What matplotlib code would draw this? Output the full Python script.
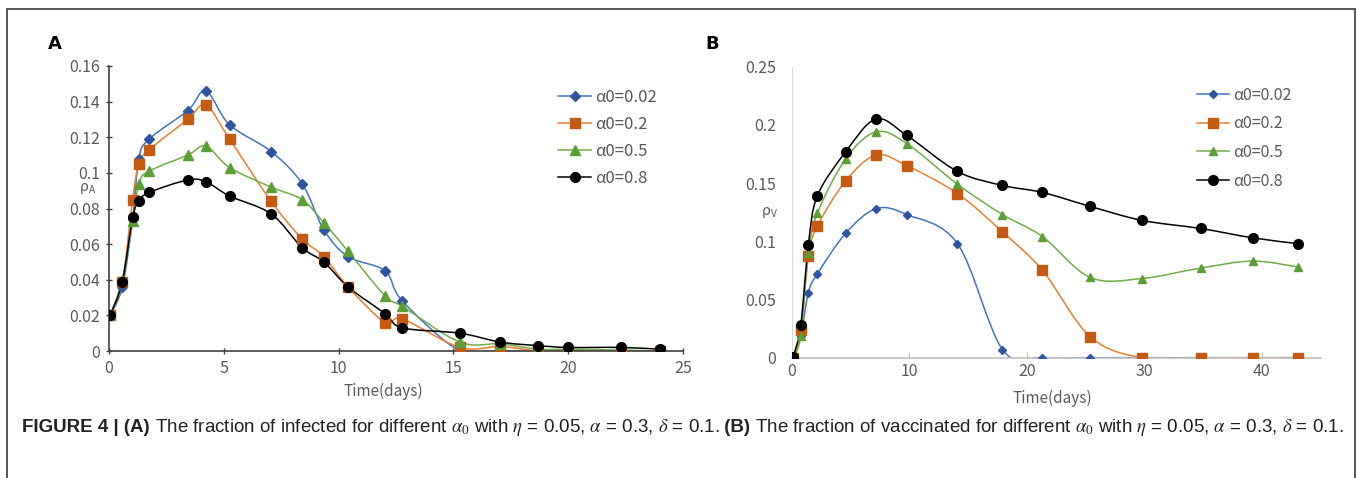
import numpy as np
import matplotlib
matplotlib.use('Agg')
import matplotlib.pyplot as plt
from matplotlib.path import Path
from matplotlib.patches import PathPatch, Rectangle
from matplotlib.lines import Line2D
from matplotlib.ticker import FuncFormatter

plt.rcParams['font.family'] = ['Noto Sans CJK SC', 'DejaVu Sans']
plt.rcParams['mathtext.fontset'] = 'stix'

# 图A数据：感染比例
days_a = [0.05, 0.58, 1.03, 1.3, 1.75, 3.43, 4.22, 5.25, 7.06, 8.41, 9.36, 10.41,
          12.02, 12.78, 15.28, 17.04, 18.7, 20.0, 22.3, 24.0]
rho_a_002 = [0.02, 0.036, 0.074, 0.108, 0.119, 0.135, 0.146, 0.127, 0.112, 0.094, 0.068, 0.053,
             0.045, 0.028, 0.0, 0.0, 0.0, 0.0, 0.0, 0.0]
rho_a_02 = [0.02, 0.039, 0.085, 0.105, 0.113, 0.13, 0.138, 0.119, 0.084, 0.063, 0.053, 0.036,
            0.016, 0.018, 0.002, 0.0025, 0.0, 0.0, 0.0, 0.0]
rho_a_05 = [0.02, 0.04, 0.073, 0.094, 0.101, 0.11, 0.115, 0.103, 0.092, 0.085, 0.072, 0.056,
            0.031, 0.025, 0.005, 0.004, 0.001, 0.001, 0.0005, 0.0]
rho_a_08 = [0.02, 0.039, 0.075, 0.084, 0.089, 0.096, 0.095, 0.087, 0.077, 0.058, 0.05, 0.036,
            0.021, 0.013, 0.01, 0.005, 0.003, 0.002, 0.002, 0.001]

# 图B数据：接种比例
days_b = [0.14, 0.77, 1.42, 2.18, 4.6, 7.17, 9.79, 14.1, 17.93, 21.33, 25.39, 29.79,
          34.78, 39.2, 43.03]
rho_v_002 = [0.0, 0.019, 0.056, 0.072, 0.107, 0.128, 0.123, 0.098, 0.007, 0.0, 0.0, 0.0,
             0.0, 0.0, 0.0]
rho_v_02 = [0.0, 0.024, 0.087, 0.113, 0.152, 0.174, 0.165, 0.141, 0.108, 0.075, 0.018, 0.0,
            0.0, 0.0, 0.0]
rho_v_05 = [0.0, 0.019, 0.09, 0.124, 0.171, 0.194, 0.184, 0.149, 0.123, 0.104, 0.069, 0.068,
            0.077, 0.083, 0.078]
rho_v_08 = [0.001, 0.028, 0.097, 0.139, 0.177, 0.205, 0.191, 0.16, 0.148, 0.142, 0.13, 0.118,
            0.111, 0.103, 0.098]

labels = ['α0=0.02', 'α0=0.2', 'α0=0.5', 'α0=0.8']
line_colors = ['#4472C4', '#ED7D31', '#70AD47', '#000000']
marker_colors = ['#2F55A0', '#C55A11', '#5A9E34', '#000000']
markers = ['D', 's', '^', 'o']

GRAY = '#595959'


# Excel风格的平滑曲线（Bezier）
def smooth_path(x, y):
    p = np.column_stack([x, y]).astype(float)
    n = len(p)
    verts = [p[0]]
    codes = [Path.MOVETO]
    for i in range(n - 1):
        p0 = p[i - 1] if i > 0 else p[i]
        p3 = p[i + 2] if i + 2 < n else p[i + 1]
        c1 = p[i] + (p[i + 1] - p0) / 6.0
        c2 = p[i + 1] - (p3 - p[i]) / 6.0
        verts += [c1, c2, p[i + 1]]
        codes += [Path.CURVE4] * 3
    return Path(verts, codes)


def draw_series(ax, x, ys, msizes):
    for y, lc, mc, mk, ms in zip(ys, line_colors, marker_colors, markers, msizes):
        ax.add_patch(PathPatch(smooth_path(x, y), fill=False, edgecolor=lc, lw=1.1, zorder=2))
        ax.plot(x, y, linestyle='none', marker=mk, ms=ms, color=mc, zorder=3)


fig = plt.figure(figsize=(13.57, 4.78), dpi=100)

# 外框
fig.add_artist(Rectangle((7 / 1357, -0.05), 1348 / 1357, 1.05 - 9 / 478, transform=fig.transFigure,
                         fill=False, edgecolor='#555555', lw=1.4))

fmt = FuncFormatter(lambda v, pos: '{:g}'.format(round(v, 3)))

# ---- 图A ----
ax1 = fig.add_axes([109 / 1357, 1 - 351 / 478, 574 / 1357, 285 / 478])
draw_series(ax1, days_a, [rho_a_002, rho_a_02, rho_a_05, rho_a_08], [5.5, 6.5, 6.5, 7])
ax1.set_xlim(0, 25)
ax1.set_ylim(0, 0.16)
ax1.set_xticks(np.arange(0, 26, 5))
ax1.set_yticks(np.arange(0, 0.161, 0.02))
ax1.yaxis.set_major_formatter(fmt)
for s in ['top', 'right']:
    ax1.spines[s].set_visible(False)
for s in ['left', 'bottom']:
    ax1.spines[s].set_color('#404040')
    ax1.spines[s].set_linewidth(1.2)
ax1.tick_params(direction='inout', length=5, width=1, color='#404040', labelcolor=GRAY,
                labelsize=11.5, pad=4)

h1 = [Line2D([], [], color=lc, marker=mk, mfc=mc, mec=mc, ms=ms, lw=1.1)
      for lc, mc, mk, ms in zip(line_colors, marker_colors, markers, [5.5, 6.5, 6.5, 7])]
fig.legend(h1, labels, loc='upper left', bbox_to_anchor=(558 / 1357, 1 - 89 / 478), frameon=False,
           fontsize=12, labelcolor=GRAY, handlelength=2.0, handletextpad=0.25, labelspacing=0.6,
           borderpad=0, borderaxespad=0)

fig.text(88 / 1357, 1 - 189 / 478, r'ρ$_{\mathregular{A}}$', color=GRAY, fontsize=10.5,
         ha='center', va='center')
fig.text(383 / 1357, 1 - 391 / 478, 'Time(days)', color=GRAY, fontsize=11, ha='center', va='center')
fig.text(55 / 1357, 1 - 44 / 478, 'A', fontsize=13, fontweight='bold', ha='center', va='center',
         family='DejaVu Sans')

# ---- 图B ----
ax2 = fig.add_axes([791.7 / 1357, 1 - 357.7 / 478, 529 / 1357, 291 / 478])
draw_series(ax2, days_b, [rho_v_002, rho_v_02, rho_v_05, rho_v_08], [4.5, 6.5, 6, 7])
ax2.set_xlim(0, 45)
ax2.set_ylim(0, 0.25)
ax2.set_xticks(np.arange(0, 41, 10))
ax2.set_yticks(np.arange(0, 0.251, 0.05))
ax2.yaxis.set_major_formatter(fmt)
for s in ['top', 'right']:
    ax2.spines[s].set_visible(False)
ax2.spines['left'].set_color('#D9D9D9')
ax2.spines['bottom'].set_color('#BFBFBF')
ax2.spines['bottom'].set_linewidth(1.2)
ax2.tick_params(axis='x', direction='in', length=4, color='#BFBFBF', labelcolor=GRAY,
                labelsize=11.5, pad=4)
ax2.tick_params(axis='y', length=0, labelcolor=GRAY, labelsize=11.5, pad=11)

h2 = [Line2D([], [], color=lc, marker=mk, mfc=mc, mec=mc, ms=ms, lw=1.1)
      for lc, mc, mk, ms in zip(line_colors, marker_colors, markers, [4.5, 6.5, 6, 7])]
fig.legend(h2, labels, loc='upper left', bbox_to_anchor=(1197 / 1357, 1 - 87 / 478), frameon=False,
           fontsize=11.5, labelcolor=GRAY, handlelength=2.0, handletextpad=0.25, labelspacing=0.72,
           borderpad=0, borderaxespad=0)

fig.text(770 / 1357, 1 - 213 / 478, r'ρ$_{\mathregular{V}}$', color=GRAY, fontsize=10.5,
         ha='center', va='center')
fig.text(1052 / 1357, 1 - 398 / 478, 'Time(days)', color=GRAY, fontsize=11, ha='center', va='center')
fig.text(712 / 1357, 1 - 44 / 478, 'B', fontsize=13, fontweight='bold', ha='center', va='center',
         family='DejaVu Sans')

# ---- 图注 ----
cap_font = ['Liberation Sans Narrow', 'Liberation Sans', 'DejaVu Sans']
pieces = [
    ('FIGURE 4 | (A)', 'bold'),
    (' The fraction of infected for different $\\alpha_0$ with $\\eta$ = 0.05, $\\alpha$ = 0.3, '
     '$\\delta$ = 0.1.', 'normal'),
    (' (B)', 'bold'),
    (' The fraction of vaccinated for different $\\alpha_0$ with $\\eta$ = 0.05, $\\alpha$ = 0.3, '
     '$\\delta$ = 0.1.', 'normal'),
]
renderer = fig.canvas.get_renderer()
x_start = 22
target_w = 1340 - 22
ycap = 1 - 428 / 478


def place_caption(size):
    x0 = x_start / fig.bbox.width
    arts = []
    for txt, w in pieces:
        t = fig.text(x0, ycap, txt, fontsize=size, fontweight=w, family=cap_font, color='#222222',
                     ha='left', va='center')
        bb = t.get_window_extent(renderer=renderer)
        x0 = bb.x1 / fig.bbox.width
        arts.append(t)
    return arts, x0 * fig.bbox.width - x_start


arts, width = place_caption(13)
for a in arts:
    a.remove()
place_caption(13 * target_w / width)

fig.savefig('out.png', dpi=100)
